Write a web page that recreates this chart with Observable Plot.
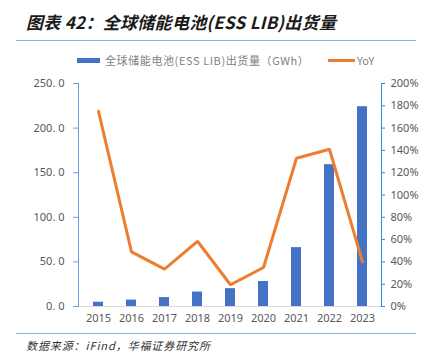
<!DOCTYPE html>
<html><head><meta charset="utf-8">
<script src="https://cdn.jsdelivr.net/npm/d3@7"></script>
<script src="https://cdn.jsdelivr.net/npm/@observablehq/plot@0.6"></script>
<style>
body{margin:0;background:#fff;font-family:"Noto Sans CJK SC",sans-serif;}
#wrap{position:relative;width:426px;height:364px;overflow:hidden;}
#title{position:absolute;left:26px;top:9px;font-size:17px;font-weight:bold;font-style:italic;color:#1a1a1a;letter-spacing:0.3px;}
.rule{position:absolute;left:16px;width:400px;height:1px;background:#8eaee0;}
#legend{position:absolute;top:52px;left:0;width:426px;height:16px;font-size:11px;color:#7f7f7f;}
#source{position:absolute;left:26px;top:337px;font-size:11px;font-style:italic;color:#333;letter-spacing:0.9px;}
#chart{position:absolute;left:0;top:70px;}
</style></head>
<body><div id="wrap">
<div id="title">图表 42：全球储能电池(ESS LIB)出货量</div>
<div class="rule" style="top:40px"></div>
<div id="legend">
  <span style="position:absolute;left:77px;top:6px;width:23px;height:5px;background:#4472c4"></span>
  <span style="position:absolute;left:105px;top:0px;white-space:nowrap;letter-spacing:0.6px">全球储能电池(ESS LIB)出货量（GWh）</span>
  <span style="position:absolute;left:328px;top:7px;width:27px;height:3px;background:#ed7d31"></span>
  <span style="position:absolute;left:357px;top:0px;">YoY</span>
</div>
<div id="chart"></div>
<div class="rule" style="top:333px"></div>
<div id="source">数据来源：iFind，华福证券研究所</div>
</div>
<script>
const years = ["2015","2016","2017","2018","2019","2020","2021","2022","2023"];
const shipments = [4.8, 7.2, 10, 16.2, 20, 28, 66, 159, 224];
const yoy = [175, 49, 33.5, 58.5, 19.5, 35, 133, 141, 40];
const leftTicks = [0, 50, 100, 150, 200, 250];
const rightTicks = [0, 20, 40, 60, 80, 100, 120, 140, 160, 180, 200];

const leftMax = 250, rightMax = 200;
const k = leftMax / rightMax;
const data = years.map((y, i) => ({year: y, v: shipments[i], yoy: yoy[i], yoyScaled: yoy[i] * k}));

const chart = Plot.plot({
  width: 426,
  height: 270,
  marginTop: 13,
  marginBottom: 34,
  marginLeft: 78,
  marginRight: 45,
  style: {fontFamily: "'Noto Sans', 'DejaVu Sans', sans-serif", fontSize: "11px", color: "#595959", background: "transparent"},
  x: {domain: years, paddingInner: 0.7, paddingOuter: 0.35, label: null},
  y: {domain: [0, leftMax], label: null},
  marks: [
    Plot.ruleY([0], {stroke: "#d9d9d9", strokeWidth: 1}),
    Plot.barY(data, {x: "year", y: "v", fill: "#4472c4"}),
    Plot.lineY(data, {x: "year", y: "yoyScaled", stroke: "#ed7d31", strokeWidth: 3, strokeLinejoin: "miter"}),
    Plot.axisX({tickSize: 0, tickPadding: 8, fill: "#595959", fontSize: 11}),
    Plot.axisY({ticks: leftTicks, tickFormat: d => d.toFixed(1).replace(".", ". "), tickSize: 5, tickPadding: 9, stroke: "#6f9be0", fill: "#595959"}),
    Plot.frame({anchor: "left", stroke: "#6f9be0"}),
    Plot.axisY({anchor: "right", ticks: rightTicks.map(t => t * k), tickFormat: d => Math.round(d / k) + "%", tickSize: 3, tickPadding: 6, stroke: "#2e8bd8", fill: "#595959"}),
    Plot.frame({anchor: "right", stroke: "#2e8bd8"})
  ]
});
document.getElementById("chart").appendChild(chart);
</script>
</body></html>
